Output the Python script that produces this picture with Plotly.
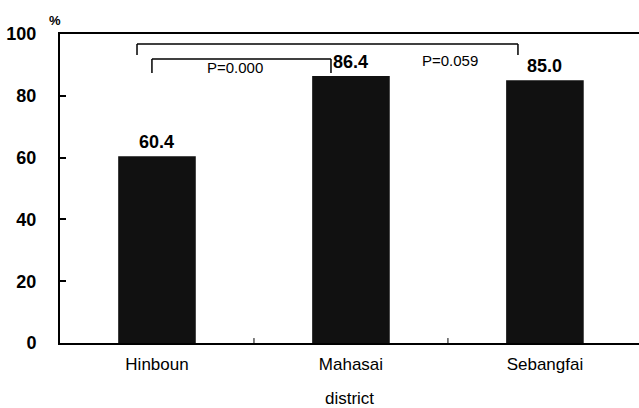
import plotly.graph_objects as go

categories = ["Hinboun", "Mahasai", "Sebangfai"]
values = [60.4, 86.4, 85.0]
value_labels = ["60.4", "86.4", "85.0"]
y_ticks = [0, 20, 40, 60, 80, 100]
p_labels = ["P=0.000", "P=0.059"]

x_idx = list(range(len(categories)))

fig = go.Figure()
fig.add_trace(go.Bar(
    x=x_idx, y=values, width=0.4,
    marker=dict(color="#111111", line=dict(width=0)),
    showlegend=False, hoverinfo="skip",
))

font_main = "Liberation Sans"

# value labels
for i, (v, lab) in enumerate(zip(values, value_labels)):
    fig.add_annotation(x=i, y=v, text=f"<b>{lab}</b>", showarrow=False,
                       yanchor="bottom", yshift=2,
                       font=dict(family=font_main, size=18, color="black"))

# brackets: inner (Hinboun-Mahasai), outer (Hinboun-Sebangfai)
line = dict(color="black", width=1.5)
def bracket(x0, x1, ytop, ybot):
    fig.add_shape(type="line", x0=x0, x1=x1, y0=ytop, y1=ytop, line=line)
    fig.add_shape(type="line", x0=x0, x1=x0, y0=ytop, y1=ybot, line=line)
    fig.add_shape(type="line", x0=x1, x1=x1, y0=ytop, y1=ybot, line=line)

bracket(-0.026, 0.897, 91.9, 87.4)
bracket(-0.103, 1.861, 96.8, 93.2)

fig.add_annotation(x=0.40, y=89.0, text=p_labels[0], showarrow=False,
                   font=dict(family=font_main, size=15, color="black"))
fig.add_annotation(x=1.51, y=91.4, text=p_labels[1], showarrow=False,
                   font=dict(family=font_main, size=15, color="black"))

fig.add_annotation(xref="paper", yref="paper", x=-0.022, y=1.075, text="<b>%</b>",
                   showarrow=False, font=dict(family=font_main, size=13, color="black"))

fig.update_layout(
    width=639, height=408,
    margin=dict(l=60, r=0, t=34, b=65, autoexpand=False),
    plot_bgcolor="white", paper_bgcolor="white",
    xaxis=dict(
        tickmode="array", tickvals=x_idx, ticktext=categories,
        range=[-0.5, 2.485],
        showline=True, linecolor="black", linewidth=2, mirror=True,
        ticks="", showgrid=False, zeroline=False,
        tickfont=dict(family=font_main, size=17, color="black"),
        ticklabelstandoff=5,
        title=dict(text="district", font=dict(family=font_main, size=17, color="black"), standoff=20),
    ),
    yaxis=dict(
        range=[0, 100], tickvals=y_ticks,
        showline=True, linecolor="black", linewidth=2,
        ticks="inside", ticklen=6, tickwidth=1.5, tickcolor="black",
        showgrid=False, zeroline=False,
        tickfont=dict(family=font_main, size=18, color="black", weight="bold"),
        ticklabelstandoff=18,
    ),
)

# category boundary ticks on x axis
for b in [0.5, 1.5]:
    fig.add_shape(type="line", x0=b, x1=b, y0=0, y1=1.6, line=dict(color="black", width=1))

fig.write_html("out.html", config={"displayModeBar": False},
               post_script="document.body.style.margin='0';document.body.style.overflow='hidden';")
